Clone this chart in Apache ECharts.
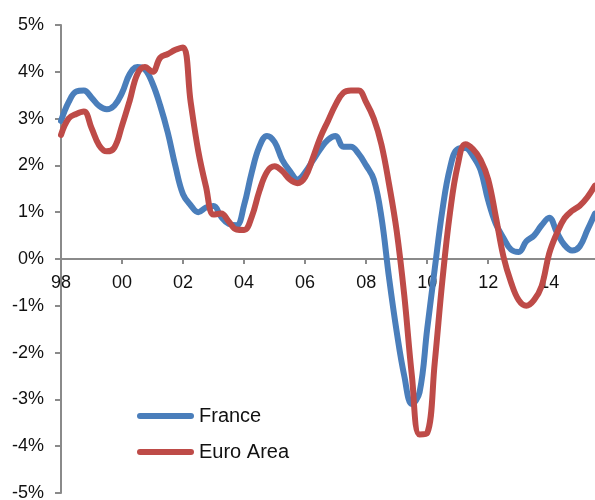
<!DOCTYPE html>
<html>
<head>
<meta charset="utf-8">
<script src="https://cdn.jsdelivr.net/npm/echarts@6/dist/echarts.min.js"></script>
<style>
    html, body { margin: 0; padding: 0; background: #ffffff; }
    #echarts-growth { width: 595px; height: 500px; }
</style>
</head>
<body>
<div id="echarts-growth"></div>
<script>
//--------------------Data--------------------
// quarterly, 1998Q1 .. 2015Q3
let years = ['98', '99', '00', '01', '02', '03', '04', '05', '06', '07', '08', '09', '10', '11', '12', '13', '14', '15'];
let quarters = [];
years.forEach(function (y) {
    ['Q1', 'Q2', 'Q3', 'Q4'].forEach(function (q) { quarters.push(y + ' ' + q); });
});
quarters = quarters.slice(0, 71);

let france = [
    2.95, 3.35, 3.58, 3.6, 3.45, 3.27, 3.2, 3.28,
    3.55, 3.95, 4.1, 4.05, 3.75, 3.28, 2.7, 1.98,
    1.38, 1.15, 1.0, 1.1, 1.13, 0.9, 0.75, 0.72,
    1.15, 1.85, 2.4, 2.63, 2.5, 2.12, 1.88, 1.7,
    1.85, 2.1, 2.35, 2.55, 2.63, 2.4, 2.4, 2.25,
    2.0, 1.7, 0.9, -0.4, -1.55, -2.5, -3.1, -2.85,
    -1.5, -0.2, 1.05, 1.95, 2.35, 2.37, 2.2, 1.9,
    1.25, 0.75, 0.45, 0.2, 0.15, 0.38, 0.5, 0.72,
    0.88, 0.57, 0.3, 0.18, 0.27, 0.62, 0.97
];
let euro_area = [
    2.65, 3.0, 3.1, 3.15, 2.8, 2.43, 2.3, 2.38,
    2.85, 3.38, 3.95, 4.1, 4.0, 4.3, 4.38, 4.47,
    4.52, 3.35, 2.3, 1.55, 0.95, 0.97, 0.8, 0.63,
    0.62, 0.9, 1.45, 1.86, 1.98, 1.88, 1.7, 1.62,
    1.75, 2.15, 2.6, 2.95, 3.3, 3.55, 3.6, 3.6,
    3.35, 3.0, 2.45, 1.6, 0.6, -0.78, -2.5, -3.75,
    -3.72, -2.2, -0.45, 1.0, 2.0, 2.45, 2.35, 2.12,
    1.7, 0.9, 0.05, -0.5, -0.88, -1.0, -0.88, -0.58,
    0.12, 0.55, 0.87, 1.03, 1.14, 1.32, 1.57
];
let series_names = ['France', 'Euro Area'];
let series_colors = ['#4a7ebb', '#be4b48'];

//--------------------Init--------------------
let growth_chart = echarts.init(document.getElementById('echarts-growth'));
let font_family = "'Liberation Sans', Arial, sans-serif";
let axis_color = '#8a8a8a';
//--------------------Location--------------------
let grid_top = 25;
let grid_bottom = 7;
let plot_height = 500 - grid_top - grid_bottom;
// x axis sits on the 0% line (offset up from the grid bottom)
let x_axis_offset = -plot_height / 2;
// pill shaped legend icon
let legend_icon = 'path://M3 0H54A3 3 0 0 1 54 6H3A3 3 0 0 1 3 0Z';

//--------------------Series--------------------
let growth_series = [france, euro_area].map(function (d, i) {
    return {
        name: series_names[i],
        type: 'line',
        data: d,
        smooth: 0.4,
        symbol: 'none',
        color: series_colors[i],
        lineStyle: { width: 6, color: series_colors[i], cap: 'round', join: 'round' },
        animation: false
    };
});

//------------------Generate Graph------------------
let growth_option = {
    backgroundColor: '#ffffff',
    animation: false,
    grid: { left: 61, right: 0, top: grid_top, bottom: grid_bottom, outerBoundsMode: 'none', containLabel: false },
    legend: {
        orient: 'vertical',
        left: 137,
        top: 406,
        padding: 0,
        icon: legend_icon,
        itemWidth: 57,
        itemHeight: 6,
        itemGap: 16,
        textStyle: { fontFamily: font_family, fontSize: 20, color: '#111', lineHeight: 20 },
        data: series_names
    },
    xAxis: {
        type: 'category',
        data: quarters,
        boundaryGap: false,
        offset: x_axis_offset,
        axisLine: { onZero: false, lineStyle: { color: axis_color, width: 2 } },
        axisTick: { show: true, interval: 7, length: 5, lineStyle: { color: axis_color, width: 2 } },
        axisLabel: {
            interval: 7,
            margin: 15,
            fontFamily: font_family,
            fontSize: 18,
            color: '#111',
            formatter: function (v) { return v.slice(0, 2); }
        },
        splitLine: { show: false }
    },
    yAxis: {
        type: 'value',
        min: -5,
        max: 5,
        interval: 1,
        axisLine: { show: true, lineStyle: { color: axis_color, width: 2 } },
        axisTick: { show: true, length: 6, lineStyle: { color: axis_color, width: 2 } },
        axisLabel: { margin: 17, fontFamily: font_family, fontSize: 18, color: '#111', formatter: '{value}%' },
        splitLine: { show: false }
    },
    series: growth_series
};
if (growth_option && typeof growth_option === "object") {
    growth_chart.setOption(growth_option, true);
}
</script>
</body>
</html>
